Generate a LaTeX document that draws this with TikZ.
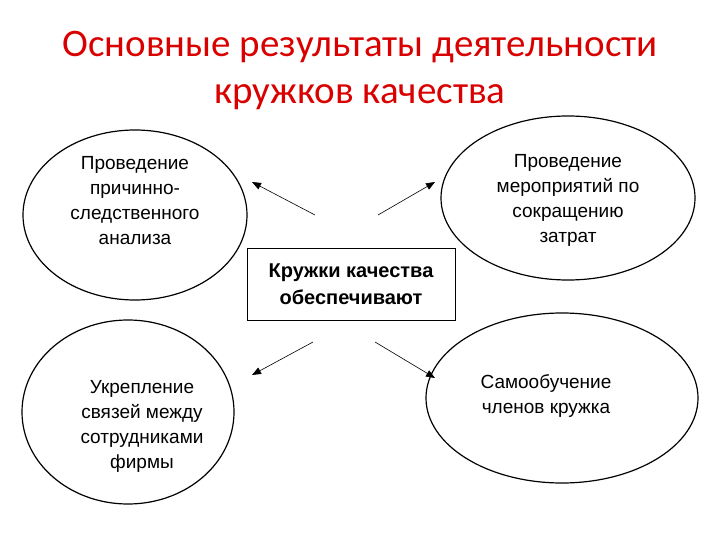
\documentclass[tikz,border=0pt]{standalone}
\usepackage{fontspec}
\setmainfont{Carlito}
\newfontfamily\arialf{Liberation Sans}
\usetikzlibrary{shapes.geometric,arrows.meta}
\begin{document}
\begin{tikzpicture}[x=1pt,y=-1pt,
  ell/.style={draw,line width=1.2pt,ellipse,inner sep=0pt},
  lbl/.style={align=center,font=\arialf\fontsize{19}{25}\selectfont},
  conn/.style={line width=0.6pt,-{Triangle[length=9pt,width=7pt]}}]
\useasboundingbox (0,0) rectangle (720,540);
\node[red!85!black,font=\fontsize{39}{47}\selectfont,align=center] (title) at (360,70) {Основные результаты деятельности\\кружков качества};
\node[ell,minimum width=224pt,minimum height=170pt] (e1) at (135,215) {};
\node[ell,minimum width=254pt,minimum height=164pt] (e2) at (568,198) {};
\node[ell,minimum width=212pt,minimum height=184pt] (e3) at (128,412) {};
\node[ell,minimum width=272pt,minimum height=170pt] (e4) at (562,398) {};
\node[lbl] (t1) at (135,201) {Проведение\\причинно-\\следственного\\анализа};
\node[lbl] (t2) at (568,200) {Проведение\\мероприятий по\\сокращению\\затрат};
\node[lbl] (t3) at (142,426) {Укрепление\\связей между\\сотрудниками\\фирмы};
\node[lbl] (t4) at (546,396) {Самообучение\\членов кружка};
\node[draw,line width=0.6pt,minimum width=208pt,minimum height=72pt,align=center,
  font=\arialf\bfseries\fontsize{20}{27}\selectfont] (c) at (351,284) {Кружки качества\\обеспечивают};
\coordinate (s1) at (315,215); \coordinate (a1) at (252,182);
\coordinate (s2) at (378,215); \coordinate (a2) at (435,182);
\coordinate (s3) at (313,342); \coordinate (a3) at (252,375);
\coordinate (s4) at (375,342); \coordinate (a4) at (435,378);
\draw[conn] (s1) -- (a1);
\draw[conn] (s2) -- (a2);
\draw[conn] (s3) -- (a3);
\draw[conn] (s4) -- (a4);
\end{tikzpicture}
\end{document}
